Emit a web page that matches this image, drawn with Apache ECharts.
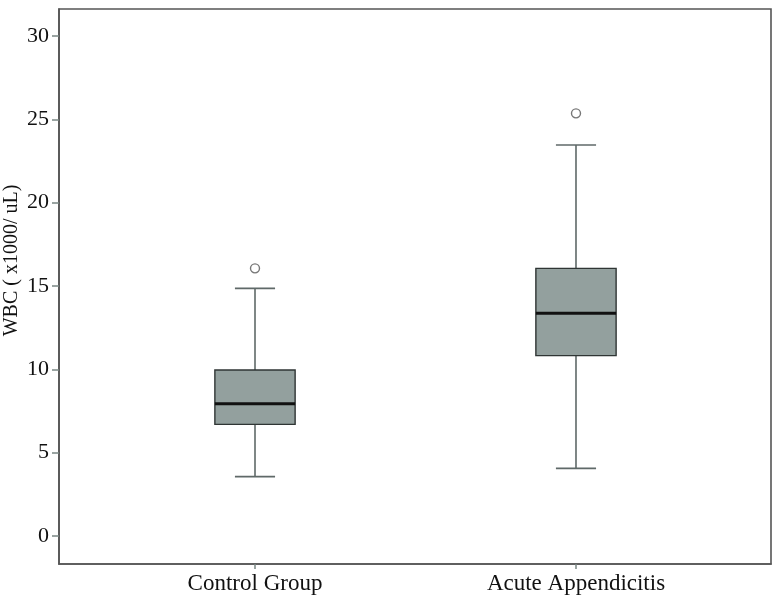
<!DOCTYPE html>
<html>
<head>
<meta charset="utf-8">
<script src="https://cdn.jsdelivr.net/npm/echarts@6/dist/echarts.min.js"></script>
<style>html,body{margin:0;padding:0;background:#fff}#c{width:780px;height:609px}</style>
</head>
<body>
<div id="c"></div>
<script>
var categories = ['Control Group', 'Acute Appendicitis'];
var lowWhisker = [3.56, 4.06];
var q1 = [6.70, 10.82];
var median = [7.94, 13.36];
var q3 = [9.96, 16.06];
var highWhisker = [14.86, 23.46];
var outliers = [[0, 16.06], [1, 25.36]];
var yTicks = [0, 5, 10, 15, 20, 25, 30];
var xTicks = [0, 1];

var boxData = categories.map(function (c, i) {
  return [i, lowWhisker[i], q1[i], median[i], q3[i], highWhisker[i]];
});

var FONT = 'Liberation Serif';
var chart = echarts.init(document.getElementById('c'), null, {renderer: 'canvas'});

function renderBox(params, api) {
  var x = api.value(0);
  var pLow = api.coord([x, api.value(1)]);
  var pQ1 = api.coord([x, api.value(2)]);
  var pMed = api.coord([x, api.value(3)]);
  var pQ3 = api.coord([x, api.value(4)]);
  var pHigh = api.coord([x, api.value(5)]);
  var band = api.size([1, 0])[0];
  var bw = band * 0.25;
  var cw = band * 0.125;
  var cx = pQ1[0];
  var wStyle = {stroke: '#5f6968', lineWidth: 1.6};
  return {
    type: 'group',
    children: [
      {type: 'line', shape: {x1: cx, y1: pQ3[1], x2: cx, y2: pHigh[1]}, style: wStyle},
      {type: 'line', shape: {x1: cx, y1: pQ1[1], x2: cx, y2: pLow[1]}, style: wStyle},
      {type: 'line', shape: {x1: cx - cw / 2, y1: pHigh[1], x2: cx + cw / 2, y2: pHigh[1]}, style: wStyle},
      {type: 'line', shape: {x1: cx - cw / 2, y1: pLow[1], x2: cx + cw / 2, y2: pLow[1]}, style: wStyle},
      {type: 'rect', shape: {x: cx - bw / 2, y: pQ3[1], width: bw, height: pQ1[1] - pQ3[1]},
        style: {fill: '#93a09e', stroke: '#2f3534', lineWidth: 1.4}},
      {type: 'line', shape: {x1: cx - bw / 2, y1: pMed[1], x2: cx + bw / 2, y2: pMed[1]},
        style: {stroke: '#111', lineWidth: 3}}
    ]
  };
}

var option = {
  backgroundColor: '#fff',
  animation: false,
  grid: {left: 59, right: 9, top: 9, bottom: 45, containLabel: false, outerBoundsMode: 'none',
    show: true, borderColor: '#555', borderWidth: 1.6, backgroundColor: 'transparent'},
  xAxis: {type: 'value', min: -0.6106, max: 1.6075,
    axisLine: {show: true, onZero: false, lineStyle: {color: '#555', width: 1.6}},
    axisTick: {show: true, customValues: xTicks, length: 5, lineStyle: {color: '#7a8684', width: 1.5}},
    axisLabel: {customValues: xTicks, fontFamily: FONT, fontSize: 23, color: '#111', margin: 8,
      formatter: function (v) { return categories[Math.round(v)] || ''; }},
    splitLine: {show: false}},
  yAxis: {type: 'value', min: -1.68, max: 31.62,
    axisLine: {show: true, onZero: false, lineStyle: {color: '#555', width: 1.6}},
    axisTick: {show: true, customValues: yTicks, length: 7, lineStyle: {color: '#7a8684', width: 1.5}},
    axisLabel: {customValues: yTicks, fontFamily: FONT, fontSize: 22, color: '#111', margin: 10},
    splitLine: {show: false},
    name: 'WBC ( x1000/ uL)', nameLocation: 'middle', nameGap: 37, nameMoveOverlap: false,
    nameTextStyle: {fontFamily: FONT, fontSize: 20, color: '#111', padding: [0, 0, 0, 52]}},
  series: [
    {type: 'custom', renderItem: renderBox, data: boxData,
      encode: {x: 0, y: [1, 2, 3, 4, 5]}, z: 3},
    {type: 'scatter', data: outliers, symbol: 'circle', symbolSize: 9,
      itemStyle: {color: '#fff', borderColor: '#555', borderWidth: 1.4}, z: 4}
  ]
};
chart.setOption(option);
</script>
</body>
</html>
